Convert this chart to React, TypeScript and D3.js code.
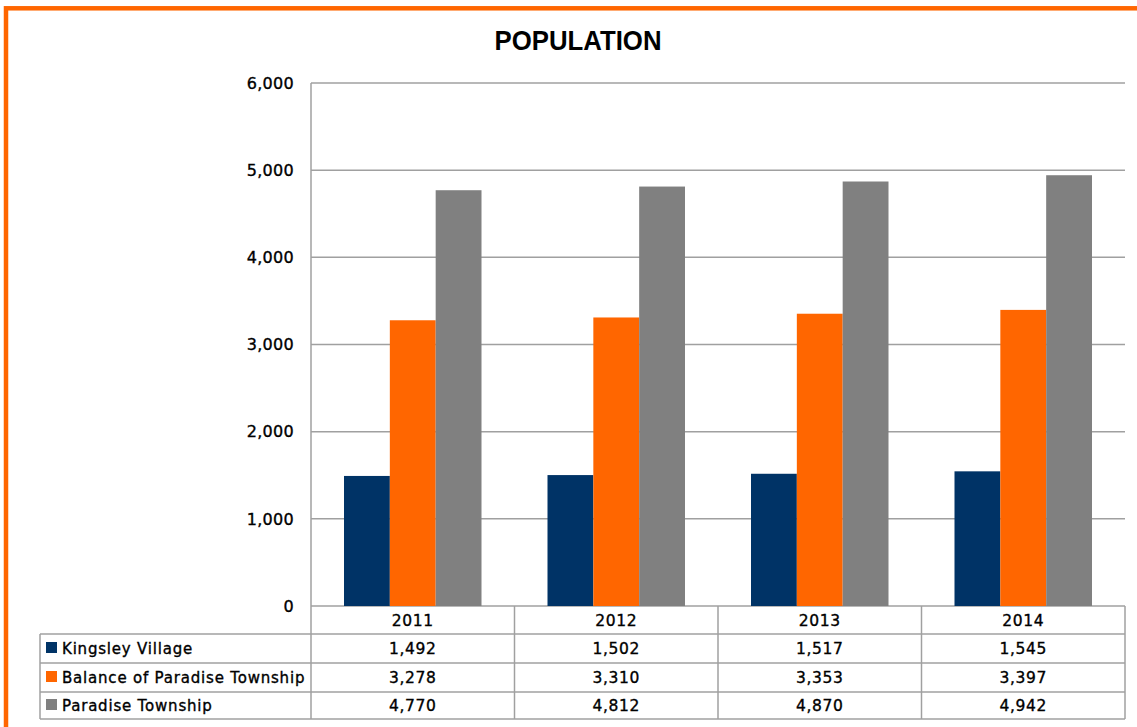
import React from 'react';
import * as d3 from 'd3';

const years = ['2011', '2012', '2013', '2014'];
const seriesNames = ['Kingsley Village', 'Balance of Paradise Township', 'Paradise Township'];
const kingsleyVillage = [1492, 1502, 1517, 1545];
const balanceOfParadise = [3278, 3310, 3353, 3397];
const paradiseTownship = [4770, 4812, 4870, 4942];
const yTicks = [0, 1000, 2000, 3000, 4000, 5000, 6000];
const colors = ['#003366', '#ff6600', '#808080'];

const seriesValues = [kingsleyVillage, balanceOfParadise, paradiseTownship];

const width = 1137;
const height = 727;
const plot = { left: 311, right: 1125, top: 83, bottom: 606 };
const tableLeft = 40;
const rowLines = [634, 663, 692, 719];
const gridColor = '#a0a0a0';
const font = '"DejaVu Sans", sans-serif';
// the source text is a touch heavier than DejaVu regular, fake it with a hairline stroke
const heavy = { stroke: '#000', strokeWidth: 0.35 };

const App: React.FC = () => {
    const fmt = d3.format(',');

    const y = d3.scaleLinear()
        .domain([0, 6000])
        .range([plot.bottom, plot.top]);

    const x0 = d3.scaleBand()
        .domain(years)
        .range([plot.left, plot.right])
        .padding(0);

    const x1 = d3.scaleBand()
        .domain(seriesNames)
        .range([0, x0.bandwidth()])
        .paddingInner(0)
        .paddingOuter(0.72);

    return (
        <svg width={width} height={height} style={{ position: 'absolute', left: 0, top: 0 }}>
            <rect x={0} y={0} width={width} height={height} fill="#fff" />
            {/* outer orange frame, cut off on the right and bottom */}
            <rect x={6} y={8.3} width={width + 20} height={height + 20} fill="none" stroke="#ff6600" strokeWidth={4.5} />

            <text x={578} y={50} textAnchor="middle" fontFamily='"Liberation Sans", Arial, sans-serif'
                fontWeight="bold" fontSize={28} textLength={167} lengthAdjust="spacingAndGlyphs">POPULATION</text>

            {/* gridlines + y labels */}
            {yTicks.map(t => (
                <g key={t}>
                    <line x1={plot.left} x2={plot.right} y1={y(t)} y2={y(t)} stroke={gridColor} strokeWidth={1.5} />
                    <text x={294} y={y(t)} dy="0.36em" textAnchor="end" fontFamily={font} fontSize={16}
                        letterSpacing={0.3} fill="#000" {...heavy}>{fmt(t)}</text>
                </g>
            ))}

            {/* bars */}
            {years.map((yr, i) => (
                <g key={yr} transform={`translate(${x0(yr)},0)`}>
                    {seriesNames.map((s, j) => (
                        <rect key={s}
                            x={x1(s) as number}
                            y={y(seriesValues[j][i])}
                            width={x1.bandwidth()}
                            height={y(0) - y(seriesValues[j][i])}
                            fill={colors[j]} />
                    ))}
                </g>
            ))}

            {/* data table */}
            <line x1={plot.left} x2={plot.left} y1={plot.top} y2={rowLines[3]} stroke={gridColor} strokeWidth={1.5} />
            <line x1={plot.right} x2={plot.right} y1={plot.bottom} y2={rowLines[3]} stroke={gridColor} strokeWidth={1.5} />
            <line x1={tableLeft} x2={tableLeft} y1={rowLines[0]} y2={rowLines[3]} stroke={gridColor} strokeWidth={1.5} />
            {years.slice(1).map(yr => (
                <line key={yr} x1={x0(yr)} x2={x0(yr)} y1={plot.bottom} y2={rowLines[3]} stroke={gridColor} strokeWidth={1.5} />
            ))}
            {rowLines.map(r => (
                <line key={r} x1={tableLeft} x2={plot.right} y1={r} y2={r} stroke={gridColor} strokeWidth={1.5} />
            ))}

            {years.map(yr => (
                <text key={yr} x={(x0(yr) as number) + x0.bandwidth() / 2} y={(plot.bottom + rowLines[0]) / 2}
                    dy="0.36em" textAnchor="middle" fontFamily={font} fontSize={15.5} letterSpacing={0.6} {...heavy}>{yr}</text>
            ))}

            {seriesNames.map((s, j) => {
                const cy = (rowLines[j] + rowLines[j + 1]) / 2;
                return (
                    <g key={s}>
                        <rect x={46} y={cy - 6.5} width={11} height={11} fill={colors[j]} />
                        <text x={62} y={cy} dy="0.36em" fontFamily={font} fontSize={15} letterSpacing={0.8} {...heavy}>{s}</text>
                        {years.map((yr, i) => (
                            <text key={yr} x={(x0(yr) as number) + x0.bandwidth() / 2} y={cy} dy="0.36em"
                                textAnchor="middle" fontFamily={font} fontSize={15.5} letterSpacing={0.6} {...heavy}>
                                {fmt(seriesValues[j][i])}
                            </text>
                        ))}
                    </g>
                );
            })}
        </svg>
    );
};

export default App;
